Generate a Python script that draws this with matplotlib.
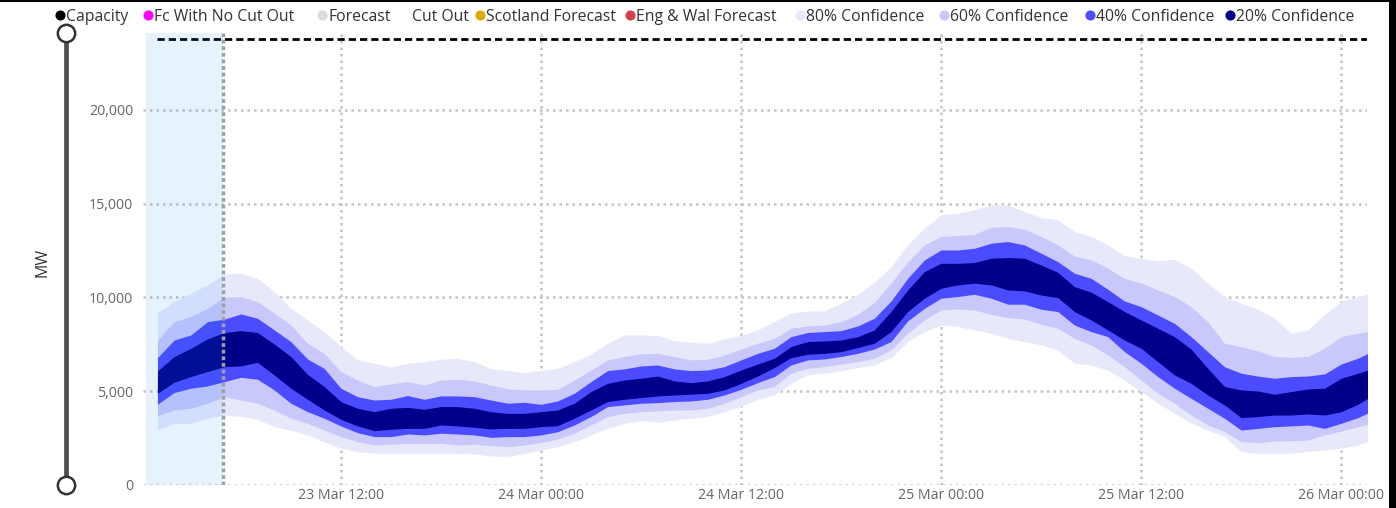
import matplotlib
matplotlib.use("Agg")
import matplotlib.pyplot as plt
import matplotlib.dates as mdates
from matplotlib.lines import Line2D
from matplotlib.ticker import FuncFormatter
import numpy as np
import pandas as pd

# hourly forecast bands (MW), 23 Mar 01:00 onwards
start = "2024-03-23 01:00"
p80_hi = [9190, 9780, 10220, 10670, 11250, 11290, 11020, 10310, 9420, 8800, 8180, 7380, 6670, 6490, 6310, 6490,
          6580, 6700, 6760, 6580, 6190, 6100, 5990, 6100, 6220, 6580, 6990, 7560, 8000, 8000, 7970, 7700,
          7610, 7560, 7790, 7970, 8270, 8710, 9160, 9280, 9280, 9690, 10170, 10810, 11650, 12800, 13690, 14400,
          14490, 14670, 14940, 14940, 14580, 14260, 14140, 13510, 13250, 12800, 12230, 12090, 11950, 12040, 11560, 10760,
          10050, 9690, 9370, 8890, 8090, 8270, 9070, 9810, 10050, 10270]
p60_hi = [7730, 8710, 8980, 9420, 10010, 10050, 9780, 9160, 8530, 7560, 7020, 6050, 5600, 5250, 5390, 5510,
          5330, 5600, 5640, 5550, 5330, 5120, 5070, 5070, 5100, 5600, 6130, 6670, 6850, 6990, 7020, 6850,
          6670, 6700, 6930, 7240, 7560, 7820, 8360, 8480, 8530, 8710, 9100, 9740, 10760, 11910, 12800, 13250,
          13300, 13370, 13740, 13780, 13640, 13250, 12800, 12210, 12000, 11560, 11020, 10760, 10400, 10050, 9510, 8710,
          7560, 7380, 7150, 6850, 6810, 6850, 7290, 7910, 8090, 8260]
p40_hi = [6790, 7730, 8000, 8710, 8840, 9120, 8890, 8270, 7650, 6720, 6220, 5160, 4710, 4530, 4570, 4770,
          4570, 4750, 4750, 4710, 4530, 4360, 4410, 4300, 4480, 4890, 5510, 6100, 6190, 6350, 6400, 6190,
          6100, 6130, 6310, 6670, 7020, 7290, 7910, 8130, 8180, 8230, 8480, 8890, 9810, 11020, 12000, 12530,
          12530, 12620, 12890, 12980, 12800, 12360, 11910, 11290, 11020, 10440, 9810, 9510, 9070, 8620, 7910, 7110,
          6310, 5960, 5810, 5690, 5780, 5810, 5920, 6450, 6760, 7190]
p20_hi = [6080, 6850, 7290, 7790, 8130, 8230, 8130, 7520, 6850, 5900, 5250, 4450, 4090, 3910, 4090, 4140,
          4040, 4180, 4180, 4090, 3910, 3820, 3820, 3910, 4000, 4360, 4980, 5420, 5600, 5690, 5810, 5550,
          5460, 5550, 5780, 6130, 6450, 6760, 7380, 7650, 7680, 7730, 7910, 8270, 9250, 10400, 11380, 11820,
          11820, 11860, 12090, 12130, 12090, 11730, 11340, 10580, 10280, 9780, 9250, 8800, 8360, 7910, 7250, 6220,
          5250, 5070, 5010, 4840, 4980, 5120, 5160, 5690, 5960, 6230]
p20_lo = [4890, 5480, 5780, 6050, 6310, 6350, 6540, 5870, 5160, 4570, 4000, 3500, 3150, 2900, 2970, 3020,
          3020, 3200, 3150, 3080, 2990, 3020, 3020, 3110, 3160, 3560, 4000, 4450, 4570, 4660, 4750, 4800,
          4840, 4890, 5070, 5420, 5810, 6260, 6790, 6970, 7020, 7110, 7330, 7560, 8180, 9250, 9960, 10490,
          10670, 10760, 10670, 10400, 10350, 10130, 9990, 9250, 8800, 8270, 7730, 7290, 6580, 5870, 5420, 4800,
          4270, 3590, 3650, 3730, 3730, 3790, 3730, 3910, 4300, 4830]
p40_lo = [4300, 4930, 5160, 5280, 5510, 5740, 5640, 5070, 4360, 3910, 3560, 3150, 2790, 2580, 2580, 2720,
          2670, 2760, 2720, 2670, 2540, 2580, 2580, 2670, 2840, 3200, 3650, 4180, 4270, 4360, 4390, 4450,
          4480, 4570, 4800, 5100, 5460, 5780, 6400, 6670, 6720, 6850, 7020, 7250, 7650, 8750, 9420, 9960,
          10050, 10170, 9960, 9640, 9640, 9370, 9250, 8530, 8180, 7910, 7110, 6490, 5780, 5160, 4620, 4090,
          3560, 2930, 3020, 3110, 3150, 3200, 3020, 3290, 3590, 4010]
p60_lo = [3700, 4000, 4090, 4360, 4710, 4530, 4360, 4000, 3560, 3290, 2930, 2580, 2310, 2130, 2170, 2220,
          2220, 2220, 2130, 2170, 2100, 2040, 2130, 2260, 2450, 2760, 3200, 3650, 3820, 3910, 3950, 4000,
          4000, 4090, 4360, 4710, 5070, 5250, 5960, 6220, 6310, 6440, 6580, 6760, 7200, 8090, 8800, 9330,
          9390, 9330, 9100, 8930, 8850, 8570, 8360, 7820, 7470, 6930, 6310, 5600, 4890, 4360, 3730, 3200,
          2840, 2310, 2260, 2350, 2360, 2400, 2670, 2880, 3110, 3350]
p80_lo = [2930, 3290, 3290, 3560, 3730, 3650, 3500, 3110, 2930, 2670, 2310, 1960, 1780, 1690, 1690, 1690,
          1690, 1690, 1690, 1650, 1550, 1510, 1690, 1870, 2040, 2310, 2670, 3020, 3290, 3430, 3340, 3470,
          3560, 3650, 3910, 4210, 4570, 4800, 5420, 5870, 5960, 6080, 6260, 6400, 6790, 7650, 8180, 8530,
          8450, 8270, 8090, 7820, 7650, 7470, 7200, 6490, 6400, 6130, 5600, 4980, 4360, 3820, 3290, 2930,
          2580, 1780, 1690, 1690, 1690, 1780, 1870, 1960, 2130, 2460]
capacity = 23790
now_time = pd.Timestamp("2024-03-23 04:55")
hist_start = pd.Timestamp("2024-03-23 00:18")
x_ticks = ["2024-03-23 12:00", "2024-03-24 00:00", "2024-03-24 12:00",
           "2024-03-25 00:00", "2024-03-25 12:00", "2024-03-26 00:00"]

legend_labels = ["Capacity", "Fc With No Cut Out", "Forecast", "Cut Out", "Scotland Forecast",
                 "Eng & Wal Forecast", "80% Confidence", "60% Confidence", "40% Confidence", "20% Confidence"]

times = pd.date_range(start, periods=len(p80_hi), freq="h")

c80, c60, c40, c20 = "#E8E8FB", "#C8C8FA", "#4B4BFF", "#00008B"
legend_colors = ["black", "#FF00FF", "#DCDCDC", None, "#DDAA00", "#D9404A", c80, c60, c40, c20]
legend_dot_x = [60, 148, 322, 406, 480, 630, 800, 944, 1090, 1230]   # pixel positions of legend dots
grid_c = "#C4C4C4"

plt.rcParams["font.family"] = ["Open Sans", "DejaVu Sans"]

fig = plt.figure(figsize=(13.96, 5.08), dpi=100)
W, H = 1396, 508
ax = fig.add_axes([143 / W, (H - 485) / H, (1367 - 143) / W, (485 - 33) / H])

ax.fill_between(times, p80_lo, p80_hi, color=c80, lw=0, zorder=2)
ax.fill_between(times, p60_lo, p60_hi, color=c60, lw=0, zorder=3)
ax.fill_between(times, p40_lo, p40_hi, color=c40, lw=0, zorder=4)
ax.fill_between(times, p20_lo, p20_hi, color=c20, lw=0, zorder=5)

ax.plot([times[0], times[-1]], [capacity, capacity], color="black", lw=2.0,
        ls=(0, (2.6, 1.45)), zorder=6)

ax.axvspan(hist_start, now_time, color="#118DFF", alpha=0.1, lw=0, zorder=7)
ax.axvline(now_time, color="#A0A0A0", lw=2.5, ls=(0, (1.1, 0.8)), zorder=8)

ax.set_xlim(pd.Timestamp("2024-03-23 00:08"), pd.Timestamp("2024-03-26 01:33"))
ax.set_ylim(0, 24100)
ax.set_yticks([0, 5000, 10000, 15000, 20000])
ax.yaxis.set_major_formatter(FuncFormatter(lambda v, p: f"{v:,.0f}"))
ax.set_xticks(pd.to_datetime(x_ticks))
ax.xaxis.set_major_formatter(mdates.DateFormatter("%d %b %H:%M"))

ax.grid(True, color=grid_c, lw=1.8, ls=(0, (1, 1.6)), zorder=1)
ax.set_axisbelow(True)
for s in ax.spines.values():
    s.set_visible(False)
ax.tick_params(length=0, colors="#666666", labelsize=10.2)
ax.tick_params(axis="y", pad=7)
ax.tick_params(axis="x", pad=2)

# slider on the left
fig.add_artist(Line2D([65.5 / W, 65.5 / W], [1 - 33 / H, 1 - 485 / H], transform=fig.transFigure,
                      color="#4F4F4F", lw=3.4, zorder=1))
fig.add_artist(Line2D([65.5 / W, 65.5 / W], [1 - 33 / H, 1 - 485 / H], transform=fig.transFigure,
                      ls="none", marker="o", ms=12.5, mfc="white", mec="#333333", mew=1.8, zorder=2))
fig.text(43 / W, 1 - 262 / H, "MW", rotation=90, ha="center", va="center", fontsize=11.5, color="#333333")

# legend, drawn item by item
ly = 1 - 15 / H
for lab, col, px in zip(legend_labels, legend_colors, legend_dot_x):
    if col is not None:
        fig.add_artist(Line2D([px / W], [ly], transform=fig.transFigure, ls="none", marker="o",
                              ms=7.3, mfc=col, mec="none"))
    fig.text((px + 6) / W, ly, lab, ha="left", va="center_baseline", fontsize=11.3, color="#333333")

# screen frame
fig.add_artist(plt.Rectangle((1389 / W, 0), 7 / W, 1, transform=fig.transFigure, color="black", lw=0))
fig.add_artist(plt.Rectangle((0, 1 - 1.5 / H), 1, 1.5 / H, transform=fig.transFigure, color="black", lw=0))

fig.savefig("out.png", dpi=100)
